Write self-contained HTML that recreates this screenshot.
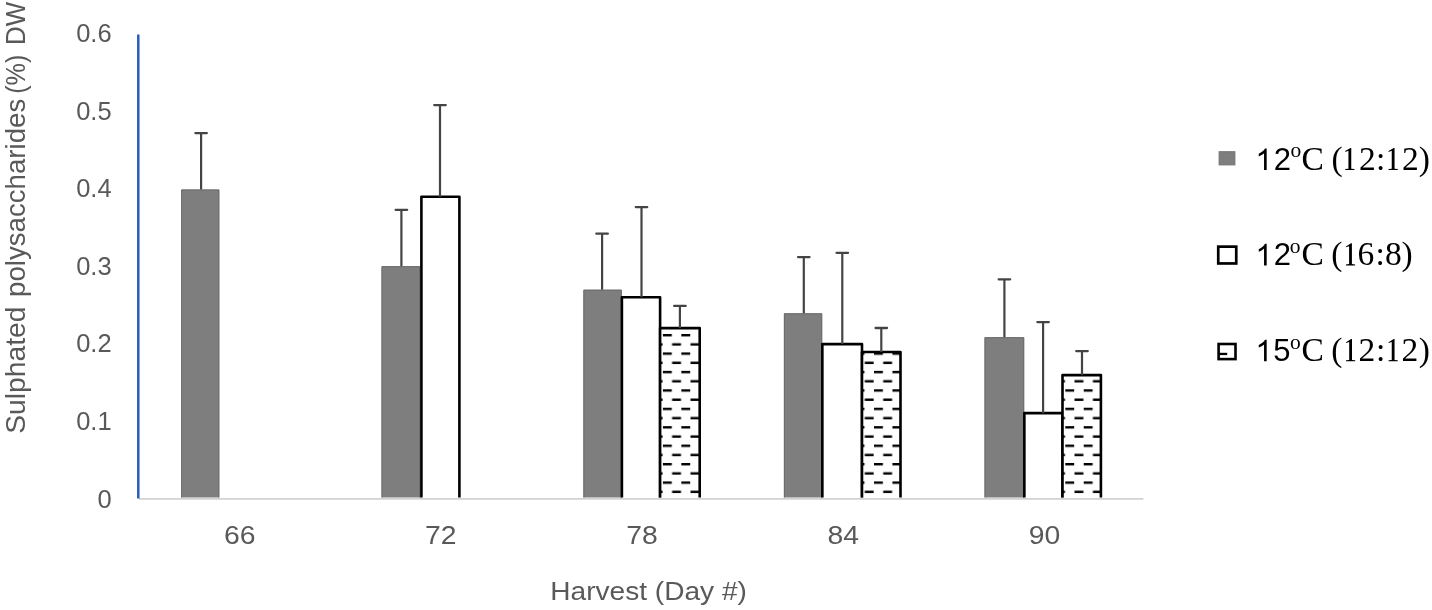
<!DOCTYPE html>
<html><head><meta charset="utf-8"><style>
html,body{margin:0;padding:0;background:#fff;}
body{width:1432px;height:610px;overflow:hidden;}
svg{display:block;will-change:transform;}
.ax{font-family:"Liberation Sans",sans-serif;font-size:25.5px;fill:#595959;}
.tt{font-family:"Liberation Sans",sans-serif;font-size:26.3px;fill:#595959;}
.yt{font-size:27.4px;}
.lg{font-family:"Liberation Serif",serif;font-size:33.5px;fill:#000;}
.ls{font-family:"Liberation Sans",sans-serif;font-size:31px;fill:#000;}
.lo{font-family:"Liberation Serif",serif;font-size:21.5px;fill:#000;}
</style></head><body>
<svg width="1432" height="610" viewBox="0 0 1432 610">
<defs><pattern id="p0" patternUnits="userSpaceOnUse" x="662.90" y="334.00" width="18.43" height="18.43"><rect x="0" y="0" width="8.9" height="2.4" fill="#000"/><rect x="9.2" y="9.22" width="8.9" height="2.4" fill="#000"/></pattern><pattern id="p1" patternUnits="userSpaceOnUse" x="874.00" y="334.00" width="18.43" height="18.43"><rect x="0" y="0" width="8.9" height="2.4" fill="#000"/><rect x="9.2" y="9.22" width="8.9" height="2.4" fill="#000"/></pattern><pattern id="p2" patternUnits="userSpaceOnUse" x="1065.30" y="334.00" width="18.43" height="18.43"><rect x="0" y="0" width="8.9" height="2.4" fill="#000"/><rect x="9.2" y="9.22" width="8.9" height="2.4" fill="#000"/></pattern></defs>
<rect x="181.2" y="189.5" width="38.10" height="308.00" fill="#7e7e7e"/>
<path d="M181.70,497.5 V190.00 H218.80 V497.5" fill="none" stroke="#6c6c6c" stroke-width="1"/>
<rect x="381.5" y="266.2" width="38.70" height="231.30" fill="#7e7e7e"/>
<path d="M382.00,497.5 V266.70 H419.70 V497.5" fill="none" stroke="#6c6c6c" stroke-width="1"/>
<rect x="583.4" y="289.7" width="38.40" height="207.80" fill="#7e7e7e"/>
<path d="M583.90,497.5 V290.20 H621.30 V497.5" fill="none" stroke="#6c6c6c" stroke-width="1"/>
<rect x="783.9" y="313.3" width="38.30" height="184.20" fill="#7e7e7e"/>
<path d="M784.40,497.5 V313.80 H821.70 V497.5" fill="none" stroke="#6c6c6c" stroke-width="1"/>
<rect x="984.5" y="337.2" width="39.70" height="160.30" fill="#7e7e7e"/>
<path d="M985.00,497.5 V337.70 H1023.70 V497.5" fill="none" stroke="#6c6c6c" stroke-width="1"/>
<path d="M421.4,497.5 V196.8 H459.4 V497.5" fill="#fff" stroke="#000" stroke-width="2.6" stroke-linejoin="round"/>
<path d="M621.9,497.5 V297.25 H660.1 V497.5" fill="#fff" stroke="#000" stroke-width="2.6" stroke-linejoin="round"/>
<path d="M822.35,497.5 V344.1 H862.0 V497.5" fill="#fff" stroke="#000" stroke-width="2.6" stroke-linejoin="round"/>
<path d="M1024.35,497.5 V413.1 H1062.5 V497.5" fill="#fff" stroke="#000" stroke-width="2.6" stroke-linejoin="round"/>
<rect x="660.1" y="328.1" width="39.60" height="169.40" fill="#fff"/>
<rect x="660.1" y="328.1" width="39.60" height="169.40" fill="url(#p0)"/>
<path d="M660.1,497.5 V328.1 H699.7 V497.5" fill="none" stroke="#000" stroke-width="2.6" stroke-linejoin="round"/>
<rect x="862.0" y="352.0" width="38.50" height="145.50" fill="#fff"/>
<rect x="862.0" y="352.0" width="38.50" height="145.50" fill="url(#p1)"/>
<path d="M862.0,497.5 V352.0 H900.5 V497.5" fill="none" stroke="#000" stroke-width="2.6" stroke-linejoin="round"/>
<rect x="1062.5" y="375.1" width="38.40" height="122.40" fill="#fff"/>
<rect x="1062.5" y="375.1" width="38.40" height="122.40" fill="url(#p2)"/>
<path d="M1062.5,497.5 V375.1 H1100.9 V497.5" fill="none" stroke="#000" stroke-width="2.6" stroke-linejoin="round"/>
<path d="M201.1,189.5 V133.1" fill="none" stroke="#444444" stroke-width="2.2"/>
<path d="M195.35,133.1 H206.85" fill="none" stroke="#444444" stroke-width="2.3" stroke-linecap="round"/>
<path d="M401.4,266.2 V209.8" fill="none" stroke="#444444" stroke-width="2.2"/>
<path d="M395.65,209.8 H407.15" fill="none" stroke="#444444" stroke-width="2.3" stroke-linecap="round"/>
<path d="M440.0,196.8 V105.1" fill="none" stroke="#444444" stroke-width="2.2"/>
<path d="M434.25,105.1 H445.75" fill="none" stroke="#444444" stroke-width="2.3" stroke-linecap="round"/>
<path d="M602.1,289.7 V233.7" fill="none" stroke="#444444" stroke-width="2.2"/>
<path d="M596.35,233.7 H607.85" fill="none" stroke="#444444" stroke-width="2.3" stroke-linecap="round"/>
<path d="M641.5,297.25 V207.1" fill="none" stroke="#444444" stroke-width="2.2"/>
<path d="M635.75,207.1 H647.25" fill="none" stroke="#444444" stroke-width="2.3" stroke-linecap="round"/>
<path d="M679.9,328.1 V305.9" fill="none" stroke="#444444" stroke-width="2.2"/>
<path d="M674.15,305.9 H685.65" fill="none" stroke="#444444" stroke-width="2.3" stroke-linecap="round"/>
<path d="M803.8,313.3 V257.1" fill="none" stroke="#444444" stroke-width="2.2"/>
<path d="M798.05,257.1 H809.55" fill="none" stroke="#444444" stroke-width="2.3" stroke-linecap="round"/>
<path d="M842.3,344.1 V252.8" fill="none" stroke="#444444" stroke-width="2.2"/>
<path d="M836.55,252.8 H848.05" fill="none" stroke="#444444" stroke-width="2.3" stroke-linecap="round"/>
<path d="M881.3,352.0 V328.0" fill="none" stroke="#444444" stroke-width="2.2"/>
<path d="M875.55,328.0 H887.05" fill="none" stroke="#444444" stroke-width="2.3" stroke-linecap="round"/>
<path d="M1004.4,337.2 V279.3" fill="none" stroke="#444444" stroke-width="2.2"/>
<path d="M998.65,279.3 H1010.15" fill="none" stroke="#444444" stroke-width="2.3" stroke-linecap="round"/>
<path d="M1043.1,413.1 V322.1" fill="none" stroke="#444444" stroke-width="2.2"/>
<path d="M1037.35,322.1 H1048.85" fill="none" stroke="#444444" stroke-width="2.3" stroke-linecap="round"/>
<path d="M1082.0,375.1 V351.1" fill="none" stroke="#444444" stroke-width="2.2"/>
<path d="M1076.25,351.1 H1087.75" fill="none" stroke="#444444" stroke-width="2.3" stroke-linecap="round"/>
<line x1="139" y1="498.9" x2="1143.4" y2="498.9" stroke="#d2d2d2" stroke-width="1.9"/>
<line x1="138.3" y1="34.5" x2="138.3" y2="498.6" stroke="#285dba" stroke-width="2.5"/>
<text x="111.6" y="508.20" text-anchor="end" class="ax">0</text>
<text x="111.6" y="429.53" text-anchor="end" class="ax">0.1</text>
<text x="111.6" y="351.86" text-anchor="end" class="ax">0.2</text>
<text x="111.6" y="275.19" text-anchor="end" class="ax">0.3</text>
<text x="111.6" y="196.52" text-anchor="end" class="ax">0.4</text>
<text x="111.6" y="119.85" text-anchor="end" class="ax">0.5</text>
<text x="111.6" y="42.03" text-anchor="end" class="ax">0.6</text>
<text x="239.65" y="543.7" text-anchor="middle" class="ax" textLength="31.5" lengthAdjust="spacingAndGlyphs">66</text>
<text x="440.85" y="543.7" text-anchor="middle" class="ax" textLength="31.5" lengthAdjust="spacingAndGlyphs">72</text>
<text x="642.05" y="543.7" text-anchor="middle" class="ax" textLength="31.5" lengthAdjust="spacingAndGlyphs">78</text>
<text x="843.25" y="543.7" text-anchor="middle" class="ax" textLength="31.5" lengthAdjust="spacingAndGlyphs">84</text>
<text x="1044.45" y="543.7" text-anchor="middle" class="ax" textLength="31.5" lengthAdjust="spacingAndGlyphs">90</text>
<text x="648.6" y="600.3" text-anchor="middle" class="tt" textLength="196.5" lengthAdjust="spacingAndGlyphs">Harvest (Day #)</text>
<text transform="translate(25.2,370.15) rotate(-90)" text-anchor="middle" class="tt yt" textLength="127.2" lengthAdjust="spacingAndGlyphs">Sulphated</text>
<text transform="translate(25.2,197.85) rotate(-90)" text-anchor="middle" class="tt yt" textLength="198.1" lengthAdjust="spacingAndGlyphs">polysaccharides</text>
<text transform="translate(25.2,74.2) rotate(-90)" text-anchor="middle" class="tt yt" textLength="39.1" lengthAdjust="spacingAndGlyphs">(%)</text>
<text transform="translate(25.2,23.5) rotate(-90)" text-anchor="middle" class="tt yt" textLength="43.1" lengthAdjust="spacingAndGlyphs">DW</text>
<rect x="1219.1" y="151.7" width="15.8" height="13.2" fill="#7e7e7e" stroke="#747474" stroke-width="1"/>
<rect x="1218.25" y="246.65" width="18" height="16.8" fill="#fff" stroke="#000" stroke-width="2.7"/>
<rect x="1218.6" y="344.0" width="16.9" height="15.1" fill="#fff" stroke="#000" stroke-width="2.6"/>
<rect x="1218" y="352.8" width="9.2" height="2.3" fill="#000"/>
<path transform="translate(1255.5,170.0) scale(0.014648,-0.014648)" d="M763 0L583 0L583 1147Q518 1085 412 1023Q307 961 223 930L223 1104Q374 1175 487 1276Q600 1377 647 1472L763 1472Z" fill="#000"/>
<text x="1273.7" y="170.0" class="ls">2</text>
<text x="1290.55" y="157.20" class="lo">o</text>
<path transform="translate(1341,170.0) scale(0.016357,-0.016357)" d="M627 80L822 58L822 0L260 0L260 58L455 80L455 1174L262 1108L262 1160L575 1352L627 1352Z" fill="#000"/>
<path transform="translate(1384.3,170.0) scale(0.016357,-0.016357)" d="M627 80L822 58L822 0L260 0L260 58L455 80L455 1174L262 1108L262 1160L575 1352L627 1352Z" fill="#000"/>
<text x="1301.6 1331.4 1359.05 1376.1 1401.9 1418.7" y="170.0" class="lg">C(2:2)</text>
<path transform="translate(1255.5,265.4) scale(0.014648,-0.014648)" d="M763 0L583 0L583 1147Q518 1085 412 1023Q307 961 223 930L223 1104Q374 1175 487 1276Q600 1377 647 1472L763 1472Z" fill="#000"/>
<text x="1273.7" y="265.4" class="ls">2</text>
<text x="1289.65" y="252.80" class="lo">o</text>
<path transform="translate(1341.65,265.4) scale(0.016357,-0.016357)" d="M627 80L822 58L822 0L260 0L260 58L455 80L455 1174L262 1108L262 1160L575 1352L627 1352Z" fill="#000"/>
<text x="1301.5 1331.15 1357.55 1375.6 1385.05 1401.5" y="265.4" class="lg">C(6:8)</text>
<path transform="translate(1255.5,361.2) scale(0.014648,-0.014648)" d="M763 0L583 0L583 1147Q518 1085 412 1023Q307 961 223 930L223 1104Q374 1175 487 1276Q600 1377 647 1472L763 1472Z" fill="#000"/>
<text x="1273.3" y="361.2" class="ls">5</text>
<text x="1289.95" y="348.50" class="lo">o</text>
<path transform="translate(1341.75,361.2) scale(0.016357,-0.016357)" d="M627 80L822 58L822 0L260 0L260 58L455 80L455 1174L262 1108L262 1160L575 1352L627 1352Z" fill="#000"/>
<path transform="translate(1384.3,361.2) scale(0.016357,-0.016357)" d="M627 80L822 58L822 0L260 0L260 58L455 80L455 1174L262 1108L262 1160L575 1352L627 1352Z" fill="#000"/>
<text x="1301.45 1331.25 1358.6 1375.9 1401.5 1418.65" y="361.2" class="lg">C(2:2)</text>
</svg>
</body></html>
